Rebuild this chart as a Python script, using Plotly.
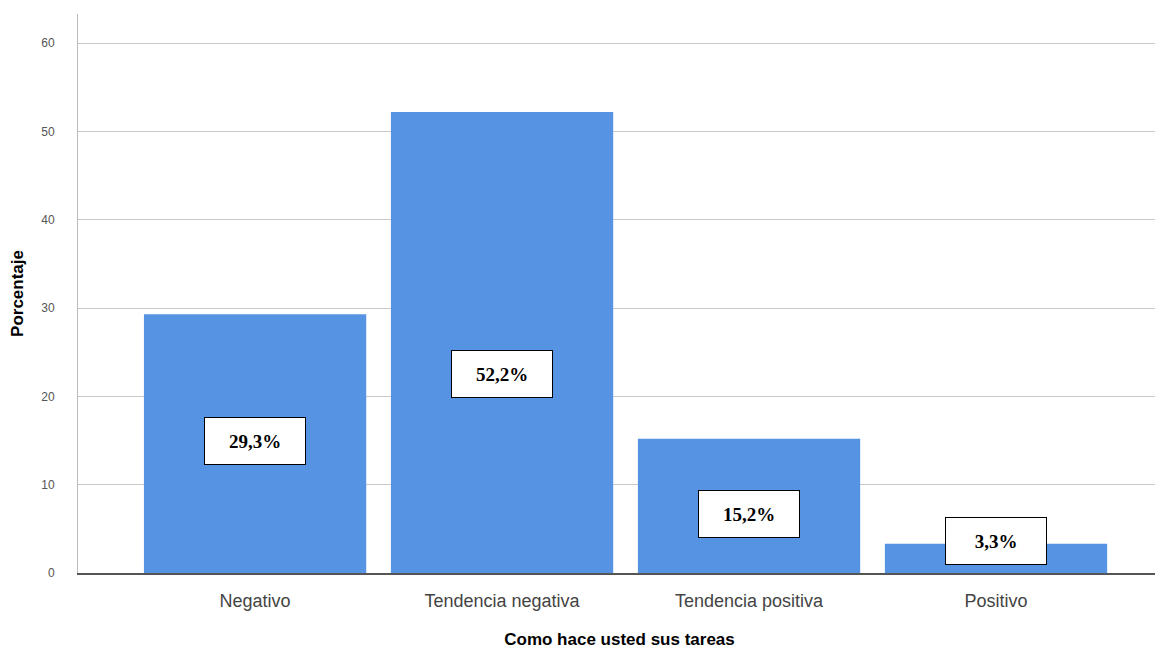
import plotly.graph_objects as go

categories = ["Negativo", "Tendencia negativa", "Tendencia positiva", "Positivo"]
values = [29.3, 52.2, 15.2, 3.3]
labels = ["29,3%", "52,2%", "15,2%", "3,3%"]
label_y = [14.95, 22.5, 6.7, 3.6]
y_ticks = [0, 10, 20, 30, 40, 50, 60]

fig = go.Figure()
fig.add_trace(go.Bar(
    x=categories, y=values, marker=dict(color="#5694e3", line=dict(width=0)),
    width=0.9, hoverinfo="skip"
))

for c, lab, ly in zip(categories, labels, label_y):
    fig.add_annotation(
        x=c, y=ly, text="<b>" + lab + "</b>", showarrow=False,
        font=dict(family="Liberation Serif", size=19, color="black"),
        bgcolor="white", bordercolor="black", borderwidth=1,
        width=98, height=44, xanchor="center", yanchor="middle"
    )

fig.update_layout(
    width=1163, height=650,
    margin=dict(l=70, r=10, t=6, b=85),
    plot_bgcolor="white", paper_bgcolor="white",
    showlegend=False, bargap=0.1,
    xaxis=dict(
        range=[-0.717, 3.668], showgrid=False,
        showline=True, linecolor="#555555", linewidth=2,
        tickfont=dict(family="Liberation Sans", size=18, color="#444444"),
        ticks="outside", ticklen=10, tickcolor="rgba(0,0,0,0)",
        title=dict(text="<b>Como hace usted sus tareas</b>",
                   font=dict(family="Liberation Sans", size=17, color="black"),
                   standoff=24),
    ),
    yaxis=dict(
        range=[0, 63.3], tickvals=y_ticks, showgrid=True,
        gridcolor="#c9c9c9", gridwidth=1,
        showline=True, linecolor="#bbbbbb", linewidth=1,
        zeroline=False,
        tickfont=dict(family="Liberation Sans", size=12, color="#555555"),
        ticks="outside", ticklen=20, tickcolor="rgba(0,0,0,0)",
        title=dict(text="<b>Porcentaje</b>",
                   font=dict(family="Liberation Sans", size=17, color="black"),
                   standoff=16),
    ),
)

fig.write_html("out.html")
